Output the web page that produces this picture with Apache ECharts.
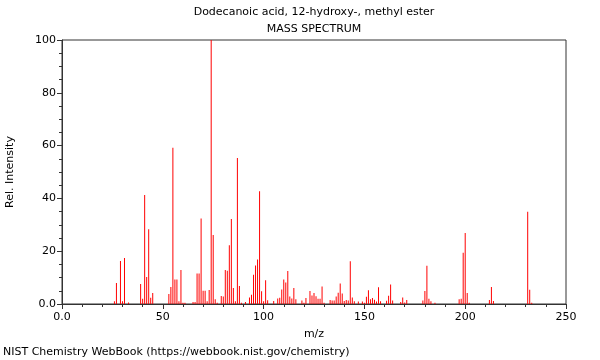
<!DOCTYPE html>
<html>
<head>
<meta charset="utf-8">
<script src="https://cdn.jsdelivr.net/npm/echarts@6/dist/echarts.min.js"></script>
<style>html,body{margin:0;padding:0;background:#fff}#c{width:600px;height:360px}</style>
</head>
<body>
<div id="c"></div>
<script>
var mz = [26,27,29,30,31,33,39,40,41,42,43,44,45,53,54,55,56,57,58,59,60,61,65,66,67,68,69,70,71,72,73,74,75,76,77,79,80,81,82,83,84,85,86,87,88,89,91,93,94,95,96,97,98,99,100,101,102,105,107,108,109,110,111,112,113,114,115,116,119,120,121,123,124,125,126,127,128,129,130,133,134,135,136,137,138,139,140,141,142,143,144,145,147,149,150,151,152,153,154,155,156,157,158,161,162,163,164,168,169,170,171,179,180,181,182,183,185,197,198,199,200,201,202,212,213,214,231,232,233];
var intensity = [1,8,16.3,1,17.4,0.6,7.6,2,41.3,10.2,28.3,2.4,4.2,3.8,6.4,59.2,9.3,9.3,1,12.9,0.5,0.5,0.8,0.8,11.6,11.6,32.4,5,5,1,5.3,100,26.1,1.8,0.5,3,2.8,12.9,12.6,22.3,32.2,6.1,1,55.3,6.8,0.5,0.8,2.5,3.5,11.1,14.6,16.9,42.7,4.8,1,9,1.4,1.1,2.1,2.4,5.5,9.3,8.1,12.5,2.8,2.1,6.1,1.8,1.3,0.5,2.3,4.9,3.2,4.2,2.9,2,2,6.6,0.5,1.5,1.3,1.3,2.8,4.3,7.8,4,1.1,1.5,1.3,16.2,2.5,1,0.9,0.9,0.5,2.7,5.2,1.8,2.3,1.6,0.9,6.3,1,1.2,3.1,7.4,1.3,0.8,2.5,0.6,1.5,1.3,4.9,14.5,2,1,0.5,1.8,2,19.4,26.9,4.2,0.5,1.5,6.4,1.1,34.9,5.4,0.5];
var xTicks = [0,50,100,150,200,250];
var yTicks = [0,20,40,60,80,100];

var data = mz.map(function(m,i){return [m,intensity[i]];});
var fmt = function(v){return v===0 ? '0.0' : String(v);};
var font = 'DejaVu Sans';
var chart = echarts.init(document.getElementById('c'), null, {renderer:'canvas'});
chart.setOption({
  animation:false,
  backgroundColor:'#fff',
  graphic:[
    {type:'text',x:314,y:7,style:{text:'Dodecanoic acid, 12-hydroxy-, methyl ester',font:'11px "DejaVu Sans"',fill:'#000',align:'center'}},
    {type:'text',x:314,y:24,style:{text:'MASS SPECTRUM',font:'11px "DejaVu Sans"',fill:'#000',align:'center'}},
    {type:'text',x:3,y:347,style:{text:'NIST Chemistry WebBook (https://webbook.nist.gov/chemistry)',font:'11px "DejaVu Sans"',fill:'#000'}}
  ],
  grid:{left:62,right:34,top:40,bottom:56,outerBoundsMode:'none',containLabel:false,show:true,borderColor:'#333',borderWidth:1,backgroundColor:'transparent'},
  xAxis:{type:'value',min:xTicks[0],max:xTicks[xTicks.length-1],interval:50,
    name:'m/z',nameLocation:'middle',nameGap:25,nameTextStyle:{fontFamily:font,fontSize:11,color:'#000'},
    axisLine:{lineStyle:{color:'#333'}},
    axisTick:{length:5,lineStyle:{color:'#333'}},
    minorTick:{show:true,splitNumber:5,length:3,lineStyle:{color:'#333'}},
    splitLine:{show:false},
    axisLabel:{formatter:fmt,fontFamily:font,fontSize:11,color:'#000',margin:8}},
  yAxis:{type:'value',min:yTicks[0],max:yTicks[yTicks.length-1],interval:20,
    name:'Rel. Intensity',nameLocation:'middle',nameGap:46,nameTextStyle:{fontFamily:font,fontSize:11,color:'#000'},
    axisLine:{show:true,lineStyle:{color:'#333'}},
    axisTick:{show:true,length:5,lineStyle:{color:'#333'}},
    minorTick:{show:true,splitNumber:4,length:3,lineStyle:{color:'#333'}},
    splitLine:{show:false},
    axisLabel:{formatter:fmt,fontFamily:font,fontSize:11,color:'#000',margin:6}},
  series:[{type:'bar',data:data,barWidth:1,itemStyle:{color:'#ff0000'},silent:true}]
});
</script>
</body>
</html>
